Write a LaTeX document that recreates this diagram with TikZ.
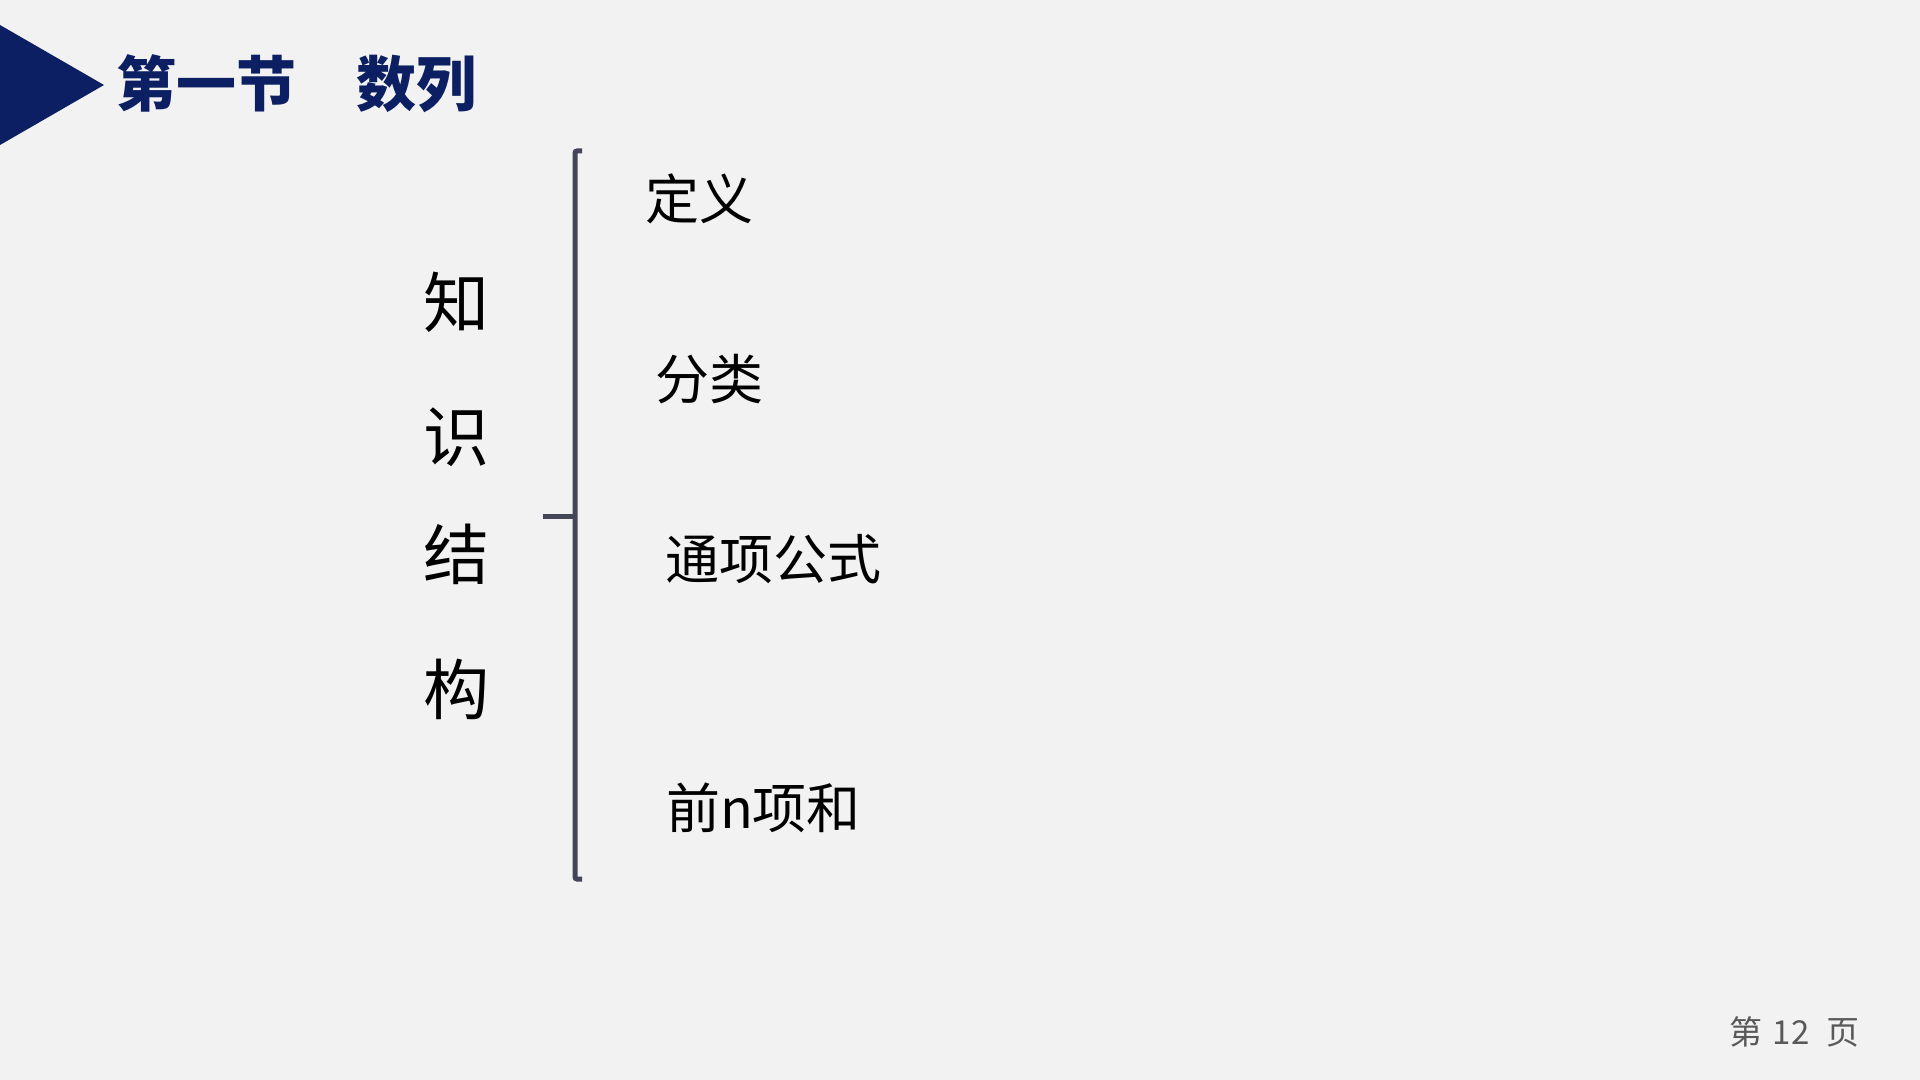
\documentclass[tikz,border=0pt]{standalone}
\usepackage{fontspec}
\newfontfamily\cjk{Noto Sans CJK SC}
\usetikzlibrary{calc}
\definecolor{navy}{RGB}{11,31,98}
\definecolor{brace}{RGB}{69,69,88}
\definecolor{pagegray}{RGB}{89,89,89}
\definecolor{bggray}{RGB}{242,242,242}

\begin{document}
\begin{tikzpicture}
        [x=0.5pt,y=-0.5pt,auto=left]
            \tikzstyle{every node}=[inner sep=0pt, outer sep=0pt, text=black]
            \tikzstyle{item}=[anchor=west, font=\cjk\fontsize{27}{27}\selectfont]
            \tikzstyle{vchar}=[font=\cjk\fontsize{33}{33}\selectfont]
        \fill[bggray] (0,0) rectangle (1920,1080);
        \useasboundingbox (0,0) rectangle (1920,1080);
        %-----header
         \fill[navy] (0,25) -- (104,85) -- (0,145) -- cycle;
         \node[anchor=west, text=navy,
               font=\cjk\bfseries\fontsize{30}{30}\selectfont] (TITLE) at (116,84) {第一节　数列};
        %-----left column
         \node[vchar]  (ZHI) at (456,302) {知};
         \node[vchar]  (SHI) at (456,437) {识};
         \node[vchar]  (JIE) at (456,554) {结};
         \node[vchar]  (GOU) at (456,689) {构};
        %-----items
         \node[item]  (DY) at (645,199) {定义};
         \node[item]  (FL) at (655,379) {分类};
         \node[item]  (TX) at (665,559) {通项公式};
         \node[item]  (QN) at (666,808) {前n项和};
        %-----brace
         \coordinate (BT) at (582,151);
         \coordinate (TL) at (575,151);
         \coordinate (BL) at (575,879);
         \coordinate (BB) at (582,879);
         \coordinate (MID) at (575,516);
         \coordinate (TICK) at (543,516);
         \draw[brace, line width=2.5pt, rounded corners=1pt] (BT) -- (TL) -- (BL) -- (BB);
         \draw[brace, line width=2.5pt] (TICK) -- (MID);
        %-----page number
         \node[anchor=east, text=pagegray, font=\cjk\fontsize{16.5}{16.5}\selectfont] (PAGE) at (1859,1032) {第\hspace{0.3em}12\hspace{0.5em}页};
        \end{tikzpicture}
\end{document}
